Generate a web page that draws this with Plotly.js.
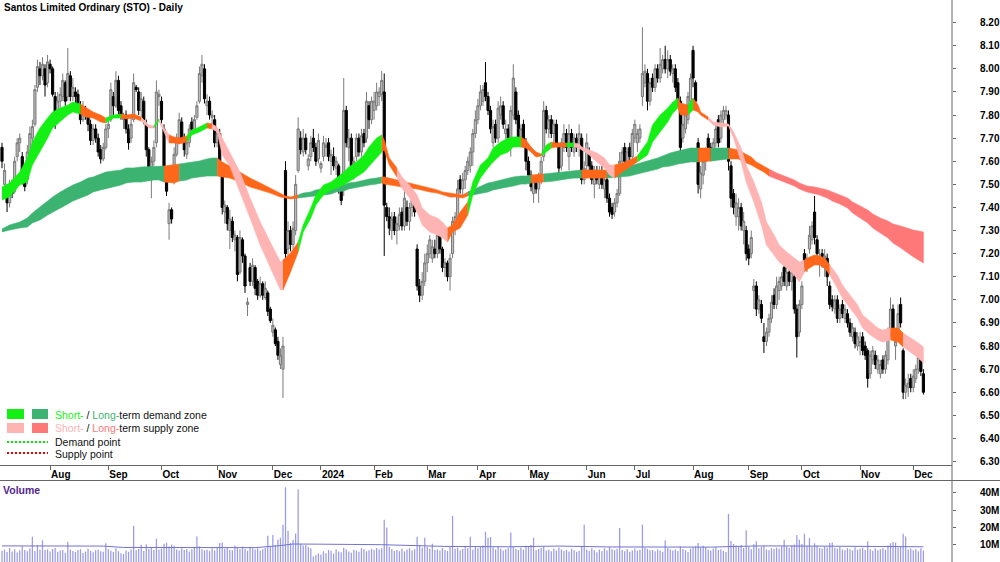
<!DOCTYPE html>
<html><head><meta charset="utf-8">
<script src="https://cdn.plot.ly/plotly-3.0.1.min.js"></script>
<style>html,body{margin:0;padding:0;background:#fff}#chart{width:1000px;height:562px}</style>
</head><body><div id="chart"></div>
<script>
// ---------- DATA ----------
const startDay = '2023-07-05', endDay = '2024-12-06';
const holidays = ['2023-12-25','2023-12-26','2024-01-01','2024-01-26','2024-03-29','2024-04-01','2024-04-25','2024-06-10'];
const monthNames = ['Jan','Feb','Mar','Apr','May','Jun','Jul','Aug','Sep','Oct','Nov','Dec'];
const priceTicks = [6.3,6.4,6.5,6.6,6.7,6.8,6.9,7.0,7.1,7.2,7.3,7.4,7.5,7.6,7.7,7.8,7.9,8.0,8.1,8.2];
const volTicks = [10,20,30,40];

// candles [open, high, low, close] per month
const jul23 = [[7.66,7.68,7.57,7.60],[7.50,7.59,7.47,7.56],[7.48,7.50,7.38,7.42],[7.42,7.52,7.40,7.49],[7.50,7.52,7.44,7.46],[7.47,7.62,7.46,7.60],[7.62,7.70,7.60,7.68],[7.68,7.72,7.64,7.70],[7.62,7.64,7.50,7.52],[7.56,7.58,7.47,7.49],[7.52,7.67,7.50,7.64],[7.64,7.75,7.62,7.72],[7.70,7.78,7.66,7.75],[7.76,7.93,7.75,7.91],[7.92,8.04,7.90,8.01],[8.00,8.03,7.93,7.97],[7.97,8.05,7.95,8.02],[8.00,8.02,7.88,7.93],[7.94,8.06,7.92,8.03]];
const aug23 = [[8.02,8.04,7.98,8.00],[8.00,8.01,7.88,7.89],[7.88,7.90,7.74,7.78],[7.78,7.90,7.76,7.86],[7.86,7.92,7.82,7.89],[7.88,7.98,7.86,7.95],[7.94,7.95,7.84,7.86],[7.88,8.09,7.86,7.98],[7.97,7.99,7.86,7.88],[7.88,7.96,7.86,7.92],[7.90,7.92,7.84,7.88],[7.89,7.91,7.82,7.84],[7.84,7.86,7.76,7.78],[7.78,7.86,7.77,7.83],[7.82,7.84,7.78,7.80],[7.80,7.82,7.73,7.76],[7.76,7.78,7.67,7.69],[7.69,7.76,7.67,7.74],[7.74,7.76,7.68,7.70],[7.70,7.72,7.62,7.64],[7.65,7.67,7.59,7.61],[7.61,7.68,7.60,7.66],[7.66,7.76,7.65,7.74]];
const sep23 = [[7.74,7.78,7.70,7.76],[7.78,7.94,7.77,7.91],[7.88,7.90,7.80,7.84],[7.84,7.99,7.83,7.95],[7.95,7.97,7.80,7.82],[7.84,7.86,7.78,7.80],[7.78,7.81,7.74,7.79],[7.80,7.82,7.72,7.74],[7.74,7.76,7.65,7.68],[7.70,7.79,7.68,7.76],[7.78,7.98,7.77,7.94],[7.92,7.93,7.90,7.91],[7.90,7.92,7.80,7.82],[7.82,7.90,7.79,7.87],[7.86,7.88,7.76,7.78],[7.76,7.78,7.62,7.65],[7.65,7.66,7.54,7.56],[7.52,7.62,7.44,7.60],[7.60,7.69,7.58,7.66],[7.68,7.95,7.66,7.90],[7.88,7.91,7.84,7.89]];
const oct23 = [[7.86,7.88,7.76,7.78],[7.74,7.76,7.57,7.58],[7.55,7.56,7.45,7.47],[7.33,7.42,7.26,7.39],[7.39,7.40,7.33,7.35],[7.52,7.66,7.50,7.63],[7.63,7.72,7.62,7.69],[7.70,7.81,7.69,7.78],[7.77,7.79,7.68,7.70],[7.70,7.72,7.62,7.65],[7.63,7.70,7.61,7.68],[7.68,7.76,7.66,7.74],[7.77,7.79,7.72,7.74],[7.73,7.80,7.72,7.78],[7.79,7.86,7.78,7.84],[7.86,8.01,7.85,7.98],[7.97,8.06,7.94,8.02],[8.00,8.02,7.85,7.87],[7.84,7.89,7.80,7.86],[7.86,7.88,7.78,7.80],[7.79,7.82,7.75,7.80],[7.78,7.80,7.66,7.68]];
const nov23 = [[7.68,7.74,7.66,7.72],[7.72,7.74,7.54,7.56],[7.54,7.55,7.37,7.40],[7.38,7.43,7.33,7.41],[7.40,7.41,7.30,7.33],[7.30,7.39,7.22,7.35],[7.34,7.36,7.25,7.27],[7.26,7.30,7.21,7.28],[7.27,7.28,7.08,7.11],[7.12,7.30,7.11,7.27],[7.26,7.27,7.16,7.19],[7.19,7.20,7.03,7.06],[6.98,7.01,6.93,6.99],[7.14,7.16,7.06,7.08],[7.08,7.18,7.06,7.15],[7.14,7.15,7.02,7.05],[7.08,7.09,7.00,7.02],[7.02,7.10,7.01,7.07],[7.07,7.08,7.00,7.02],[7.01,7.08,7.00,7.05],[7.03,7.04,6.93,6.95],[6.96,6.97,6.90,6.91]];
const dec23 = [[6.86,6.92,6.84,6.89],[6.87,6.88,6.80,6.81],[6.82,6.84,6.74,6.76],[6.72,6.79,6.70,6.76],[6.70,6.84,6.575,6.80],[7.56,7.60,7.17,7.20],[7.22,7.34,7.18,7.30],[7.30,7.32,7.21,7.24],[7.24,7.34,7.22,7.31],[7.30,7.54,7.28,7.50],[7.56,7.79,7.55,7.74],[7.70,7.73,7.63,7.65],[7.64,7.74,7.62,7.70],[7.70,7.72,7.63,7.65],[7.58,7.63,7.56,7.61],[7.62,7.71,7.60,7.68],[7.70,7.74,7.64,7.66],[7.66,7.68,7.58,7.60],[7.61,7.72,7.59,7.69]];
const jan24 = [[7.57,7.60,7.55,7.59],[7.62,7.71,7.60,7.68],[7.66,7.70,7.62,7.67],[7.68,7.70,7.60,7.62],[7.60,7.65,7.54,7.63],[7.62,7.66,7.56,7.58],[7.57,7.62,7.54,7.60],[7.58,7.59,7.46,7.48],[7.48,7.50,7.41,7.43],[7.50,7.96,7.45,7.82],[7.82,7.84,7.66,7.68],[7.66,7.74,7.60,7.70],[7.70,7.72,7.56,7.58],[7.56,7.62,7.52,7.60],[7.62,7.72,7.60,7.70],[7.70,7.72,7.62,7.64],[7.64,7.74,7.62,7.71],[7.72,7.74,7.66,7.68],[7.70,7.90,7.68,7.86],[7.84,7.86,7.74,7.78],[7.78,7.88,7.76,7.86]];
const feb24 = [[7.82,7.90,7.78,7.86],[7.84,7.94,7.82,7.90],[7.88,7.92,7.84,7.90],[7.89,7.99,7.86,7.95],[7.90,7.98,7.19,7.41],[7.40,7.42,7.34,7.36],[7.36,7.40,7.28,7.31],[7.30,7.38,7.26,7.35],[7.36,7.38,7.28,7.30],[7.30,7.36,7.24,7.33],[7.32,7.40,7.30,7.37],[7.38,7.40,7.30,7.32],[7.32,7.48,7.30,7.44],[7.40,7.43,7.32,7.34],[7.34,7.42,7.30,7.40],[7.40,7.46,7.36,7.44],[7.42,7.46,7.36,7.38],[7.22,7.24,7.04,7.06],[7.06,7.09,6.99,7.02],[7.02,7.12,7.00,7.08],[7.08,7.20,7.06,7.16]];
const mar24 = [[7.16,7.24,7.12,7.20],[7.20,7.28,7.18,7.26],[7.18,7.26,7.16,7.23],[7.22,7.26,7.18,7.20],[7.20,7.30,7.18,7.28],[7.28,7.30,7.20,7.22],[7.22,7.23,7.12,7.14],[7.14,7.18,7.10,7.16],[7.16,7.17,7.08,7.10],[7.10,7.20,7.04,7.18],[7.20,7.36,7.18,7.34],[7.32,7.38,7.28,7.36],[7.36,7.52,7.34,7.48],[7.52,7.54,7.46,7.48],[7.48,7.55,7.45,7.52],[7.52,7.58,7.48,7.56],[7.56,7.62,7.54,7.60],[7.58,7.66,7.55,7.64],[7.64,7.74,7.58,7.72],[7.72,7.82,7.70,7.78]];
const apr24 = [[7.78,7.87,7.76,7.84],[7.84,7.93,7.82,7.90],[7.86,7.93,7.84,7.91],[7.94,8.03,7.86,7.88],[7.88,7.90,7.80,7.82],[7.82,7.84,7.72,7.74],[7.68,7.78,7.66,7.75],[7.76,7.78,7.68,7.70],[7.70,7.86,7.68,7.83],[7.80,7.88,7.78,7.84],[7.84,7.86,7.74,7.76],[7.72,7.78,7.68,7.74],[7.74,7.76,7.68,7.70],[7.70,7.84,7.62,7.82],[7.80,8.02,7.78,7.96],[7.90,7.92,7.76,7.78],[7.80,7.82,7.68,7.70],[7.68,7.76,7.66,7.74],[7.76,7.78,7.66,7.68],[7.68,7.70,7.56,7.60]];
const may24 = [[7.60,7.62,7.52,7.54],[7.54,7.56,7.47,7.49],[7.46,7.54,7.42,7.52],[7.52,7.54,7.46,7.48],[7.48,7.55,7.42,7.53],[7.52,7.62,7.50,7.60],[7.62,7.86,7.60,7.82],[7.82,7.84,7.72,7.74],[7.74,7.80,7.70,7.78],[7.78,7.80,7.70,7.72],[7.72,7.78,7.68,7.76],[7.76,7.78,7.66,7.68],[7.66,7.68,7.54,7.57],[7.58,7.70,7.56,7.68],[7.66,7.76,7.64,7.72],[7.72,7.74,7.64,7.66],[7.62,7.76,7.56,7.72],[7.72,7.74,7.64,7.66],[7.64,7.72,7.62,7.70],[7.70,7.72,7.64,7.66],[7.66,7.76,7.62,7.72],[7.70,7.72,7.50,7.52],[7.52,7.60,7.50,7.57]];
const jun24 = [[7.58,7.72,7.56,7.68],[7.64,7.66,7.56,7.58],[7.58,7.60,7.50,7.52],[7.50,7.58,7.44,7.56],[7.56,7.58,7.50,7.52],[7.50,7.58,7.48,7.56],[7.56,7.58,7.48,7.50],[7.48,7.54,7.44,7.52],[7.52,7.54,7.42,7.44],[7.44,7.46,7.36,7.38],[7.40,7.42,7.35,7.37],[7.38,7.44,7.36,7.42],[7.42,7.48,7.40,7.46],[7.46,7.64,7.45,7.60],[7.60,7.66,7.58,7.64],[7.66,7.68,7.58,7.60],[7.58,7.66,7.56,7.64],[7.66,7.68,7.58,7.62],[7.62,7.74,7.60,7.72]];
const jul24 = [[7.70,7.78,7.68,7.76],[7.68,7.74,7.64,7.72],[7.70,7.76,7.68,7.74],[7.88,8.18,7.84,7.98],[7.94,8.02,7.92,7.99],[7.98,8.00,7.82,7.86],[7.86,7.96,7.84,7.94],[7.96,7.98,7.90,7.92],[7.92,8.02,7.90,8.00],[8.00,8.02,7.94,7.96],[7.96,8.09,7.94,8.02],[8.00,8.06,7.98,8.04],[8.04,8.10,7.98,8.00],[8.00,8.08,7.96,8.04],[8.04,8.06,7.97,7.99],[7.98,8.02,7.94,8.00],[8.00,8.02,7.90,7.92],[7.94,7.96,7.84,7.86],[7.86,7.88,7.63,7.66],[7.70,7.80,7.68,7.76],[7.74,7.84,7.72,7.80],[7.78,7.90,7.76,7.88],[7.86,7.98,7.84,7.96]];
const aug24 = [[8.08,8.10,7.92,7.96],[7.94,7.95,7.84,7.86],[7.68,7.70,7.46,7.50],[7.48,7.58,7.44,7.55],[7.54,7.62,7.50,7.60],[7.60,7.66,7.56,7.64],[7.70,7.72,7.64,7.66],[7.66,7.68,7.60,7.62],[7.62,7.70,7.60,7.68],[7.68,7.76,7.66,7.74],[7.78,7.80,7.66,7.68],[7.70,7.82,7.68,7.80],[7.78,7.84,7.76,7.82],[7.80,7.84,7.78,7.82],[7.80,7.82,7.56,7.60],[7.58,7.60,7.40,7.44],[7.46,7.48,7.37,7.40],[7.36,7.46,7.32,7.42],[7.36,7.44,7.30,7.40],[7.40,7.42,7.30,7.32],[7.30,7.38,7.24,7.34],[7.30,7.32,7.17,7.20]];
const sep24 = [[7.22,7.24,7.15,7.18],[7.20,7.30,7.18,7.27],[7.04,7.09,6.96,7.06],[7.06,7.08,6.93,6.96],[6.96,7.02,6.94,7.00],[6.98,7.00,6.90,6.92],[6.84,6.90,6.77,6.82],[6.82,6.88,6.80,6.86],[6.86,6.94,6.84,6.92],[6.92,7.02,6.90,6.99],[7.02,7.05,6.96,6.98],[6.98,7.10,6.96,7.06],[7.04,7.10,7.00,7.08],[7.06,7.12,7.04,7.10],[7.14,7.16,7.06,7.08],[7.06,7.14,7.04,7.12],[7.12,7.14,7.06,7.08],[7.08,7.14,7.04,7.12],[7.10,7.12,6.94,6.96],[6.96,6.98,6.75,6.84],[6.86,7.00,6.84,6.98]];
const oct24 = [[6.98,7.08,6.96,7.06],[7.20,7.22,7.14,7.16],[7.16,7.20,7.12,7.18],[7.22,7.32,7.20,7.28],[7.26,7.34,7.24,7.32],[7.38,7.45,7.24,7.27],[7.26,7.28,7.18,7.20],[7.16,7.22,7.10,7.18],[7.20,7.22,7.14,7.16],[7.14,7.22,7.10,7.19],[7.18,7.20,7.06,7.10],[7.06,7.08,6.96,6.98],[7.00,7.02,6.95,6.97],[6.96,7.02,6.94,7.00],[7.00,7.02,6.90,6.92],[6.92,6.98,6.90,6.96],[6.98,7.00,6.92,6.94],[6.92,6.98,6.90,6.96],[6.94,6.96,6.88,6.90],[6.90,6.92,6.84,6.86],[6.84,6.90,6.82,6.88],[6.86,6.88,6.79,6.81],[6.80,6.86,6.78,6.84]];
const nov24 = [[6.80,6.86,6.76,6.82],[6.84,6.86,6.76,6.78],[6.80,6.82,6.74,6.76],[6.78,6.79,6.62,6.66],[6.68,6.78,6.66,6.76],[6.74,6.80,6.72,6.78],[6.76,6.78,6.70,6.72],[6.70,6.76,6.68,6.74],[6.68,6.74,6.66,6.72],[6.74,6.76,6.68,6.70],[6.70,6.78,6.68,6.76],[6.74,6.88,6.72,6.84],[6.86,7.01,6.84,6.96],[6.96,6.98,6.84,6.86],[6.80,6.86,6.74,6.82],[6.84,6.98,6.82,6.94],[6.98,7.01,6.88,6.90],[6.78,6.79,6.57,6.60],[6.60,6.66,6.57,6.63],[6.62,6.68,6.58,6.64],[6.66,6.68,6.60,6.62]];
const dec24 = [[6.62,6.70,6.60,6.67],[6.66,6.72,6.64,6.70],[6.70,6.77,6.68,6.75],[6.74,6.76,6.67,6.69],[6.68,6.70,6.59,6.60]];

// daily volume (millions) per month
const vJul23 = [6.5,7.2,5.8,8.1,6.0,7.4,5.5,6.8,9.2,7.0,6.2,7.8,14.6,6.4,9.8,7.1,12.5,6.9,7.3];
const vAug23 = [6.1,7.5,8.2,5.9,6.6,7.0,5.4,11.7,7.2,6.3,5.8,6.9,7.4,5.2,6.0,7.7,6.4,5.6,6.8,7.1,6.2,5.9,10.8];
const vSep23 = [7.3,6.5,5.8,7.9,6.2,5.1,4.6,6.7,5.9,7.2,20.9,6.8,7.5,10.0,6.3,10.2,7.7,8.4,6.9,13.5,7.1];
const vOct23 = [7.8,10.6,11.2,8.9,10.1,9.4,7.2,6.6,8.0,6.9,7.5,6.1,7.3,8.6,14.8,9.0,7.4,6.8,7.1,6.4,7.9,6.7];
const vNov23 = [8.2,11.0,11.3,7.6,8.4,7.0,6.8,9.6,8.1,7.3,8.9,7.7,6.5,8.8,7.9,7.2,8.0,6.6,7.4,8.3,15.2,9.1];
const vDec23 = [15.6,9.8,12.8,14.0,21.5,43.2,18.0,11.0,12.8,16.5,42.0,10.4,9.6,9.8,8.7,7.9,3.2,4.1,5.0];
const vJan24 = [4.4,6.2,5.1,7.0,6.5,4.8,7.4,6.1,5.6,8.3,7.2,6.0,5.4,7.1,6.6,5.9,8.0,7.3,6.2,6.8,7.7];
const vFeb24 = [6.9,8.1,7.4,7.9,24.4,20.0,8.8,7.5,6.4,7.0,6.3,7.8,6.1,7.2,8.0,6.7,7.4,14.6,9.6,8.2,14.0];
const vMar24 = [8.7,7.6,10.5,6.9,7.3,6.6,8.1,7.0,6.4,8.6,26.7,7.7,8.3,6.8,7.5,9.2,8.0,14.6,7.1,9.0];
const vApr24 = [7.9,8.8,9.6,17.5,14.0,14.5,8.4,7.2,9.1,7.8,6.6,7.4,8.2,17.0,9.0,7.6,6.9,8.3,7.1,9.4];
const vMay24 = [8.6,9.8,14.0,6.9,7.5,8.2,8.9,6.7,7.1,6.2,7.8,6.6,8.4,7.3,6.5,7.0,6.1,7.7,6.8,5.9,6.4,8.8,21.5];
const vJun24 = [7.2,6.4,7.9,6.8,5.7,7.1,6.3,8.0,6.6,8.7,7.4,6.9,7.6,19.6,7.0,6.2,7.5,5.9,6.7];
const vJul24 = [7.8,6.5,7.1,21.5,8.3,7.6,6.8,7.0,6.2,7.3,6.6,5.9,12.5,8.1,7.4,6.7,7.2,6.3,9.0,7.5,6.8,5.8,7.7];
const vAug24 = [8.4,9.1,11.0,8.2,9.4,8.7,7.1,6.6,7.8,8.5,6.9,7.3,6.4,5.8,27.8,12.2,10.4,9.6,8.8,9.8,8.1,18.4];
const vSep24 = [8.6,7.4,10.2,12.0,7.9,8.8,9.4,7.2,6.8,8.0,7.5,8.3,7.6,8.9,12.8,9.0,8.2,9.5,10.1,15.6,12.8];
const vOct24 = [10.4,16.3,9.2,13.9,8.6,10.8,9.4,8.1,7.7,9.0,8.4,11.0,11.2,8.3,7.6,8.8,7.2,6.9,8.0,7.4,6.7,8.5,7.1];
const vNov24 = [7.6,8.2,6.9,12.0,7.3,6.5,7.9,6.8,7.4,8.1,7.0,9.6,10.8,11.6,11.2,8.4,9.0,16.3,14.8,7.2,7.8];
const vDec24 = [6.8,7.5,6.2,7.9,6.6];

// volume moving average samples [day index, millions]
const volMA = [[0,9.3],[20,9.4],[40,9.2],[48,8.4],[60,8.3],[80,8.2],[100,8.3],[110,9.5],[115,10.4],[125,10.3],[140,10.2],[150,10.0],[160,9.6],[175,9.0],[200,8.8],[220,9.2],[240,8.7],[260,8.6],[280,8.6],[290,9.0],[300,9.3],[320,9.2],[340,8.9],[364,8.8]];

// zone bands [day index, upper, lower, zone of segment to next: D demand, S supply, T transition]
const shortBand = [[0,7.488,7.432,'D'],[3,7.506,7.445,'D'],[7,7.553,7.497,'D'],[10,7.614,7.510,'D'],[12,7.683,7.584,'D'],[15,7.744,7.640,'D'],[18,7.787,7.700,'D'],[20,7.813,7.744,'D'],[23,7.830,7.770,'D'],[26,7.843,7.800,'D'],[28,7.856,7.813,'D'],[31,7.848,7.804,'T'],[33,7.835,7.791,'T'],[36,7.813,7.787,'T'],[39,7.800,7.770,'T'],[41,7.787,7.766,'D'],[44,7.800,7.787,'D'],[47,7.804,7.787,'T'],[49,7.800,7.783,'T'],[52,7.804,7.787,'T'],[55,7.791,7.774,'S'],[58,7.757,7.744,'S'],[60,7.753,7.744,'D'],[62,7.783,7.774,'S'],[64,7.744,7.727,'S'],[66,7.714,7.679,'T'],[68,7.705,7.679,'T'],[70,7.701,7.675,'T'],[73,7.709,7.683,'D'],[75,7.735,7.714,'D'],[78,7.748,7.727,'D'],[81,7.766,7.744,'T'],[83,7.761,7.740,'S'],[85,7.748,7.727,'S'],[87,7.701,7.627,'S'],[90,7.640,7.579,'S'],[94,7.553,7.467,'S'],[98,7.441,7.354,'S'],[102,7.337,7.237,'S'],[106,7.250,7.138,'S'],[110,7.164,7.043,'S'],[111,7.172,7.043,'T'],[114,7.203,7.121,'T'],[117,7.250,7.207,'D'],[119,7.324,7.294,'D'],[122,7.398,7.354,'D'],[124,7.454,7.411,'D'],[127,7.497,7.454,'D'],[130,7.510,7.476,'D'],[132,7.527,7.484,'D'],[135,7.553,7.497,'D'],[137,7.575,7.510,'D'],[140,7.597,7.532,'D'],[143,7.627,7.553,'D'],[145,7.662,7.575,'D'],[148,7.701,7.614,'D'],[150,7.714,7.640,'T'],[151,7.692,7.649,'T'],[153,7.614,7.584,'T'],[156,7.571,7.532,'S'],[158,7.532,7.484,'S'],[161,7.497,7.441,'S'],[164,7.454,7.380,'S'],[166,7.398,7.324,'S'],[169,7.367,7.294,'S'],[172,7.354,7.281,'S'],[174,7.337,7.268,'S'],[176,7.311,7.250,'T'],[178,7.324,7.294,'T'],[181,7.380,7.311,'T'],[184,7.424,7.367,'D'],[186,7.510,7.454,'D'],[189,7.584,7.527,'D'],[192,7.614,7.571,'D'],[194,7.657,7.597,'D'],[197,7.683,7.627,'D'],[200,7.701,7.640,'D'],[202,7.705,7.662,'D'],[205,7.705,7.662,'T'],[207,7.692,7.657,'T'],[209,7.662,7.640,'T'],[211,7.640,7.618,'T'],[213,7.631,7.623,'D'],[215,7.670,7.640,'D'],[217,7.683,7.657,'T'],[219,7.679,7.662,'T'],[223,7.679,7.662,'D'],[226,7.679,7.662,'S'],[228,7.675,7.657,'S'],[229,7.662,7.649,'S'],[232,7.649,7.627,'S'],[235,7.636,7.597,'S'],[238,7.614,7.571,'S'],[240,7.584,7.540,'S'],[242,7.584,7.527,'T'],[245,7.592,7.553,'T'],[248,7.605,7.575,'T'],[251,7.623,7.597,'D'],[255,7.683,7.627,'D'],[257,7.757,7.683,'D'],[260,7.800,7.727,'D'],[263,7.830,7.770,'D'],[265,7.856,7.809,'D'],[267,7.874,7.830,'T'],[268,7.852,7.800,'T'],[271,7.843,7.800,'D'],[273,7.874,7.822,'T'],[275,7.843,7.813,'T'],[276,7.813,7.800,'T'],[279,7.791,7.779,'S'],[281,7.770,7.757,'S'],[284,7.766,7.748,'S'],[287,7.761,7.753,'S'],[289,7.727,7.701,'S'],[292,7.657,7.597,'S'],[294,7.584,7.510,'S'],[297,7.510,7.424,'S'],[300,7.424,7.324,'S'],[302,7.337,7.237,'S'],[305,7.281,7.194,'S'],[307,7.237,7.164,'S'],[310,7.207,7.138,'S'],[313,7.181,7.108,'S'],[315,7.164,7.077,'S'],[317,7.172,7.121,'T'],[319,7.185,7.138,'T'],[321,7.194,7.151,'T'],[323,7.190,7.151,'T'],[325,7.181,7.138,'T'],[327,7.151,7.108,'S'],[330,7.108,7.051,'S'],[332,7.064,7.008,'S'],[335,7.021,6.965,'S'],[338,6.978,6.921,'S'],[340,6.934,6.878,'S'],[343,6.904,6.848,'S'],[346,6.878,6.826,'S'],[348,6.869,6.817,'S'],[351,6.878,6.826,'T'],[354,6.878,6.817,'T'],[356,6.856,6.796,'S'],[359,6.835,6.774,'S'],[362,6.813,6.748,'S'],[364,6.796,6.727,'S']];
const longBand = [[0,7.307,7.294,'D'],[3,7.324,7.302,'D'],[7,7.337,7.311,'D'],[10,7.354,7.315,'D'],[12,7.376,7.333,'D'],[15,7.402,7.346,'D'],[18,7.424,7.367,'D'],[20,7.445,7.380,'D'],[23,7.467,7.398,'D'],[26,7.484,7.415,'D'],[28,7.497,7.428,'D'],[31,7.510,7.441,'D'],[34,7.527,7.454,'D'],[36,7.532,7.467,'D'],[39,7.545,7.476,'D'],[41,7.553,7.484,'D'],[44,7.558,7.489,'D'],[47,7.562,7.497,'D'],[49,7.571,7.506,'D'],[52,7.571,7.510,'D'],[55,7.575,7.510,'D'],[60,7.579,7.519,'D'],[62,7.579,7.519,'D'],[64,7.579,7.510,'T'],[68,7.584,7.506,'T'],[70,7.588,7.514,'D'],[73,7.592,7.519,'D'],[75,7.597,7.527,'D'],[78,7.601,7.532,'D'],[81,7.610,7.536,'D'],[83,7.614,7.536,'D'],[85,7.614,7.536,'T'],[87,7.597,7.532,'T'],[90,7.579,7.527,'T'],[94,7.553,7.510,'T'],[98,7.527,7.489,'T'],[102,7.506,7.476,'T'],[106,7.484,7.462,'T'],[110,7.462,7.445,'T'],[112,7.450,7.441,'T'],[114,7.445,7.437,'T'],[117,7.454,7.441,'D'],[119,7.462,7.441,'D'],[122,7.467,7.445,'D'],[124,7.476,7.450,'D'],[127,7.480,7.454,'D'],[130,7.489,7.458,'D'],[132,7.493,7.467,'D'],[135,7.497,7.471,'D'],[137,7.506,7.480,'D'],[140,7.510,7.484,'D'],[143,7.519,7.493,'D'],[145,7.523,7.497,'D'],[148,7.527,7.501,'D'],[150,7.532,7.506,'T'],[151,7.532,7.501,'T'],[153,7.527,7.497,'T'],[156,7.519,7.493,'T'],[158,7.514,7.489,'T'],[161,7.506,7.484,'T'],[164,7.497,7.480,'T'],[166,7.493,7.476,'T'],[169,7.484,7.467,'T'],[172,7.476,7.462,'T'],[174,7.467,7.454,'T'],[177,7.462,7.445,'T'],[180,7.458,7.445,'T'],[182,7.454,7.441,'T'],[184,7.467,7.450,'D'],[186,7.476,7.454,'D'],[189,7.489,7.462,'D'],[192,7.506,7.467,'D'],[194,7.510,7.476,'D'],[197,7.519,7.480,'D'],[200,7.527,7.489,'D'],[202,7.532,7.493,'D'],[205,7.536,7.501,'D'],[207,7.536,7.501,'D'],[209,7.540,7.506,'T'],[214,7.545,7.510,'D'],[218,7.549,7.514,'D'],[221,7.553,7.519,'D'],[223,7.553,7.523,'D'],[226,7.558,7.527,'D'],[229,7.562,7.527,'T'],[231,7.562,7.527,'T'],[236,7.562,7.527,'T'],[239,7.562,7.527,'D'],[243,7.566,7.532,'D'],[245,7.571,7.532,'D'],[248,7.579,7.536,'D'],[251,7.588,7.545,'D'],[253,7.597,7.553,'D'],[256,7.605,7.558,'D'],[259,7.614,7.566,'D'],[261,7.623,7.575,'D'],[264,7.636,7.579,'D'],[267,7.644,7.588,'D'],[269,7.649,7.592,'D'],[272,7.657,7.597,'D'],[275,7.657,7.597,'T'],[277,7.657,7.597,'T'],[280,7.657,7.601,'D'],[283,7.657,7.605,'D'],[287,7.657,7.610,'T'],[291,7.649,7.610,'T'],[293,7.636,7.597,'T'],[296,7.618,7.584,'T'],[298,7.597,7.571,'T'],[301,7.579,7.553,'T'],[303,7.566,7.536,'S'],[306,7.549,7.523,'S'],[310,7.532,7.506,'S'],[313,7.519,7.493,'S'],[315,7.506,7.480,'S'],[318,7.493,7.467,'S'],[321,7.489,7.458,'S'],[323,7.484,7.454,'S'],[326,7.476,7.441,'S'],[328,7.467,7.428,'S'],[331,7.454,7.415,'S'],[334,7.441,7.398,'S'],[336,7.424,7.376,'S'],[339,7.406,7.354,'S'],[342,7.389,7.333,'S'],[344,7.372,7.311,'S'],[347,7.354,7.289,'S'],[350,7.341,7.268,'S'],[352,7.328,7.246,'S'],[355,7.320,7.225,'S'],[358,7.311,7.203,'S'],[360,7.302,7.186,'S'],[364,7.294,7.160,'S']];

// ---------- BUILD ----------
function tradingDays(start, end, hol) {
  const out = []; const d = new Date(start + 'T00:00:00Z'); const e = new Date(end + 'T00:00:00Z');
  while (d <= e) { const wd = d.getUTCDay(); const s = d.toISOString().slice(0, 10);
    if (wd !== 0 && wd !== 6 && hol.indexOf(s) < 0) out.push(s); d.setUTCDate(d.getUTCDate() + 1); }
  return out;
}
const dates = tradingDays(startDay, endDay, holidays);
const candles = [].concat(jul23, aug23, sep23, oct23, nov23, dec23, jan24, feb24, mar24, apr24, may24, jun24, jul24, aug24, sep24, oct24, nov24, dec24);
const volume = [].concat(vJul23, vAug23, vSep23, vOct23, vNov23, vDec23, vJan24, vFeb24, vMar24, vApr24, vMay24, vJun24, vJul24, vAug24, vSep24, vOct24, vNov24, vDec24);
if (dates.length !== candles.length || dates.length !== volume.length) console.error('length mismatch', dates.length, candles.length, volume.length);

const tickvals = [], ticktext = [];
for (let i = 1; i < dates.length; i++) {
  if (dates[i].slice(5, 7) !== dates[i - 1].slice(5, 7)) {
    tickvals.push(dates[i]); const m = +dates[i].slice(5, 7);
    ticktext.push(m === 1 ? dates[i].slice(0, 4) : monthNames[m - 1]);
  }
}

const FONT = "'Liberation Sans', Arial, sans-serif";
const zoneColors = {
  short: { D: '#14f014', S: '#ffb4b4', T: '#ff681a' },
  long:  { D: '#3cb371', S: '#ff7878', T: '#ff681a' }
};

function bandTraces(rows, colors) {
  const tr = []; let k = 0;
  while (k < rows.length - 1) {
    const z = rows[k][3]; let e = k;
    while (e < rows.length - 1 && rows[e][3] === z) e++;
    const xs = [], ys = [];
    for (let j = k; j <= e; j++) { xs.push(dates[rows[j][0]]); ys.push(rows[j][1]); }
    for (let j = e; j >= k; j--) { xs.push(dates[rows[j][0]]); ys.push(rows[j][2]); }
    tr.push({ type: 'scatter', mode: 'lines', x: xs, y: ys, fill: 'toself', fillcolor: colors[z],
      line: { width: 0.6, color: colors[z] }, hoverinfo: 'skip', showlegend: false, xaxis: 'x', yaxis: 'y' });
    k = e;
  }
  return tr;
}

const traces = [];
traces.push(...bandTraces(longBand, zoneColors.long));
traces.push(...bandTraces(shortBand, zoneColors.short));
traces.push({
  type: 'candlestick', x: dates,
  open: candles.map(r => r[0]), high: candles.map(r => r[1]), low: candles.map(r => r[2]), close: candles.map(r => r[3]),
  increasing: { line: { color: '#7a7a7a', width: 1 }, fillcolor: '#bdbdbd' },
  decreasing: { line: { color: '#000000', width: 1 }, fillcolor: '#000000' },
  whiskerwidth: 0, hoverinfo: 'skip', showlegend: false, xaxis: 'x', yaxis: 'y'
});
traces.push({ type: 'bar', x: dates, y: volume, marker: { color: '#9c9ce6', line: { width: 0 } }, width: 0.5,
  hoverinfo: 'skip', showlegend: false, xaxis: 'x', yaxis: 'y2' });
traces.push({ type: 'scatter', mode: 'lines', x: volMA.map(r => dates[r[0]]), y: volMA.map(r => r[1]),
  line: { color: '#7272d2', width: 1 }, hoverinfo: 'skip', showlegend: false, xaxis: 'x', yaxis: 'y2' });

// pixel helpers for the overlay legend
const PW = 952, PH = 562;
const px = v => v / PW, py = v => (PH - v) / PH;

const shapes = [
  { type: 'line', xref: 'paper', yref: 'paper', x0: 0, x1: 1000 / PW, y0: py(480.5), y1: py(480.5), line: { color: '#666', width: 1 } },
  { type: 'line', xref: 'paper', yref: 'paper', x0: 1, x1: 1, y0: 0, y1: 1, line: { color: '#666', width: 1 } },
  { type: 'rect', xref: 'paper', yref: 'paper', x0: px(7), x1: px(24), y0: py(419), y1: py(409), fillcolor: zoneColors.short.D, line: { width: 0 } },
  { type: 'rect', xref: 'paper', yref: 'paper', x0: px(32), x1: px(48), y0: py(419), y1: py(409), fillcolor: zoneColors.long.D, line: { width: 0 } },
  { type: 'rect', xref: 'paper', yref: 'paper', x0: px(7), x1: px(24), y0: py(433), y1: py(423), fillcolor: zoneColors.short.S, line: { width: 0 } },
  { type: 'rect', xref: 'paper', yref: 'paper', x0: px(32), x1: px(48), y0: py(433), y1: py(423), fillcolor: zoneColors.long.S, line: { width: 0 } },
  { type: 'line', xref: 'paper', yref: 'paper', x0: px(7), x1: px(48), y0: py(442), y1: py(442), line: { color: '#00e600', width: 2, dash: '2px,2px' } },
  { type: 'line', xref: 'paper', yref: 'paper', x0: px(7), x1: px(48), y0: py(453), y1: py(453), line: { color: '#f00000', width: 2, dash: '2px,2px' } }
];

const legFont = { family: FONT, size: 10.5, color: '#111' };
const annotations = [
  { xref: 'paper', yref: 'paper', x: px(2), y: py(8), xanchor: 'left', yanchor: 'middle', showarrow: false,
    text: '<b>Santos Limited Ordinary (STO) - Daily</b>', font: { family: FONT, size: 10, color: '#000' } },
  { xref: 'paper', yref: 'paper', x: px(53), y: py(414.5), xanchor: 'left', yanchor: 'middle', showarrow: false, font: legFont,
    text: '<span style="color:' + zoneColors.short.D + '">Short-</span> / <span style="color:' + zoneColors.long.D + '">Long-</span>term demand zone' },
  { xref: 'paper', yref: 'paper', x: px(53), y: py(427.5), xanchor: 'left', yanchor: 'middle', showarrow: false, font: legFont,
    text: '<span style="color:' + zoneColors.short.S + '">Short-</span> / <span style="color:' + zoneColors.long.S + '">Long-</span>term supply zone' },
  { xref: 'paper', yref: 'paper', x: px(53), y: py(441.5), xanchor: 'left', yanchor: 'middle', showarrow: false, font: legFont, text: 'Demand point' },
  { xref: 'paper', yref: 'paper', x: px(53), y: py(453.5), xanchor: 'left', yanchor: 'middle', showarrow: false, font: legFont, text: 'Supply point' },
  { xref: 'paper', yref: 'paper', x: px(1), y: py(489.5), xanchor: 'left', yanchor: 'middle', showarrow: false,
    text: '<b>Volume</b>', font: { family: FONT, size: 10.5, color: '#52268f' } }
];

const tickFont = { family: FONT, size: 10, color: '#000', weight: 'bold' };
const layout = {
  width: 1000, height: 562, margin: { l: 0, r: 48, t: 0, b: 0, pad: 0 },
  paper_bgcolor: '#ffffff', plot_bgcolor: '#ffffff', showlegend: false, dragmode: false,
  boxgap: 0.15, boxgroupgap: 0,
  xaxis: { type: 'category', categoryorder: 'array', categoryarray: dates, range: [-0.79, 375.3],
    tickmode: 'array', tickvals: tickvals, ticktext: ticktext,
    ticks: 'outside', ticklen: 4, tickcolor: '#666', ticklabelposition: 'outside right', tickfont: tickFont,
    showline: true, linecolor: '#666', linewidth: 1, showgrid: false, zeroline: false, anchor: 'y',
    rangeslider: { visible: false }, fixedrange: true },
  yaxis: { domain: [(PH - 465) / PH, 1], range: [6.285, 8.298], side: 'right', anchor: 'x',
    tickmode: 'array', tickvals: priceTicks, ticktext: priceTicks.map(v => v.toFixed(2)),
    ticks: 'outside', ticklen: 3, tickcolor: '#666', ticklabelstandoff: 22, tickfont: tickFont,
    showline: false, showgrid: false, zeroline: false, fixedrange: true },
  yaxis2: { domain: [0, (PH - 481) / PH], range: [0, 46.8], side: 'right', anchor: 'x',
    tickmode: 'array', tickvals: volTicks, ticktext: volTicks.map(v => v + 'M'),
    ticks: 'outside', ticklen: 3, tickcolor: '#666', ticklabelstandoff: 22, tickfont: tickFont,
    showline: false, showgrid: false, zeroline: false, fixedrange: true },
  shapes: shapes, annotations: annotations
};

Plotly.newPlot('chart', traces, layout, { staticPlot: true, displayModeBar: false });
</script>
</body></html>
